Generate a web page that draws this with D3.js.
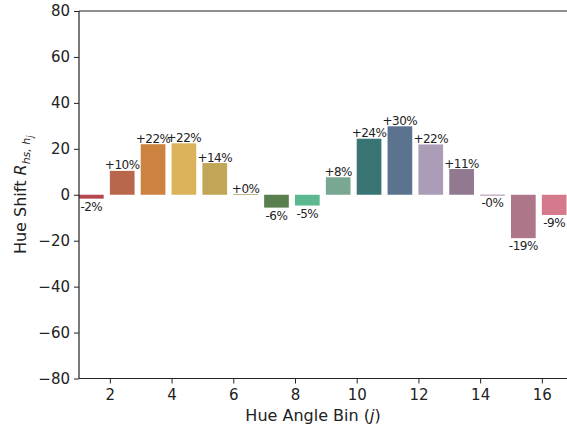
<!DOCTYPE html>
<html><head><meta charset="utf-8">
<script src="https://cdn.jsdelivr.net/npm/d3@7"></script>
<style>body{margin:0;background:#fff}svg{display:block}text{font-family:"DejaVu Sans",sans-serif;fill:#222}</style>
</head><body><svg id="c" width="567" height="432"></svg>
<script>
const bins = [1,2,3,4,5,6,7,8,9,10,11,12,13,14,15,16];
const shifts = [-1.7,10.4,22.0,22.4,13.8,0.3,-5.6,-4.7,7.6,24.4,29.8,21.9,11.2,-0.3,-18.9,-8.8];
const colors = ["#b5484f","#b8664c","#cc8340","#dcb35a","#c0a656","#a09a50","#5a7f4f","#5cb88f","#7aa792","#397575","#5c738f","#ab9db8","#917a8f","#8a5a80","#ae7789","#d57a8c"];
const xTicks = [2,4,6,8,10,12,14,16];
const yTicks = [-80,-60,-40,-20,0,20,40,60,80];
const barWidth = 0.8;

const svg = d3.select("#c");
const L = 79, R = 567, T = 11, B = 378.5;
const x = d3.scaleLinear().domain([1, 16.815]).range([L, R]);
const y = d3.scaleLinear().domain([-80, 80]).range([B, T]);

svg.append("g").selectAll("rect").data(bins).join("rect")
  .attr("x", (d) => x(d))
  .attr("width", x(1 + barWidth) - x(1))
  .attr("y", (d, i) => y(Math.max(0, shifts[i])))
  .attr("height", (d, i) => Math.abs(y(shifts[i]) - y(0)))
  .attr("fill", (d, i) => colors[i]);

svg.append("g").selectAll("text").data(bins).join("text")
  .attr("x", (d) => x(d + barWidth / 2))
  .attr("y", (d, i) => shifts[i] >= 0 ? y(shifts[i]) - 1.5 : y(shifts[i]) + 12)
  .attr("text-anchor", "middle")
  .style("font-size", "12px")
  .style("letter-spacing", "-0.5px")
  .text((d, i) => (shifts[i] >= 0 ? "+" : "-") + Math.round(Math.abs(shifts[i])) + "%");

const ax = svg.append("g").attr("transform", `translate(0,${B})`)
  .call(d3.axisBottom(x).tickValues(xTicks).tickSize(5).tickPadding(6).tickFormat(d3.format("d")));
const ay = svg.append("g").attr("transform", `translate(${L},0)`)
  .call(d3.axisLeft(y).tickValues(yTicks).tickSize(5).tickPadding(4).tickFormat((d) => d < 0 ? "\u2212" + Math.abs(d) : d));
[ax, ay].forEach((g) => {
  g.select(".domain").remove();
  g.selectAll("line").attr("stroke", "#222").attr("stroke-width", 1);
  g.selectAll("text").style("font-size", "15px").attr("fill", "#222");
});
svg.append("line").attr("x1", L).attr("x2", R).attr("y1", T).attr("y2", T).attr("stroke", "#222").attr("stroke-width", 1.2);
svg.append("line").attr("x1", L).attr("x2", R).attr("y1", B).attr("y2", B).attr("stroke", "#222").attr("stroke-width", 1.2);
svg.append("line").attr("x1", L).attr("x2", L).attr("y1", T).attr("y2", B).attr("stroke", "#222").attr("stroke-width", 1.2);

const xl = svg.append("text").attr("x", (L + R) / 2 - 10).attr("y", 421).attr("text-anchor", "middle").style("font-size", "16px");
xl.append("tspan").text("Hue Angle Bin (");
xl.append("tspan").style("font-style", "italic").text("j");
xl.append("tspan").text(")");

const yl = svg.append("text").attr("transform", `translate(26,${(T + B) / 2}) rotate(-90)`).attr("text-anchor", "middle").style("font-size", "16px");
yl.append("tspan").text("Hue Shift ");
yl.append("tspan").style("font-style", "italic").text("R");
yl.append("tspan").attr("dy", 4).style("font-size", "11px").style("font-style", "italic").text("hs, h");
yl.append("tspan").attr("dy", 3).style("font-size", "8px").style("font-style", "italic").text("j");
</script></body></html>
